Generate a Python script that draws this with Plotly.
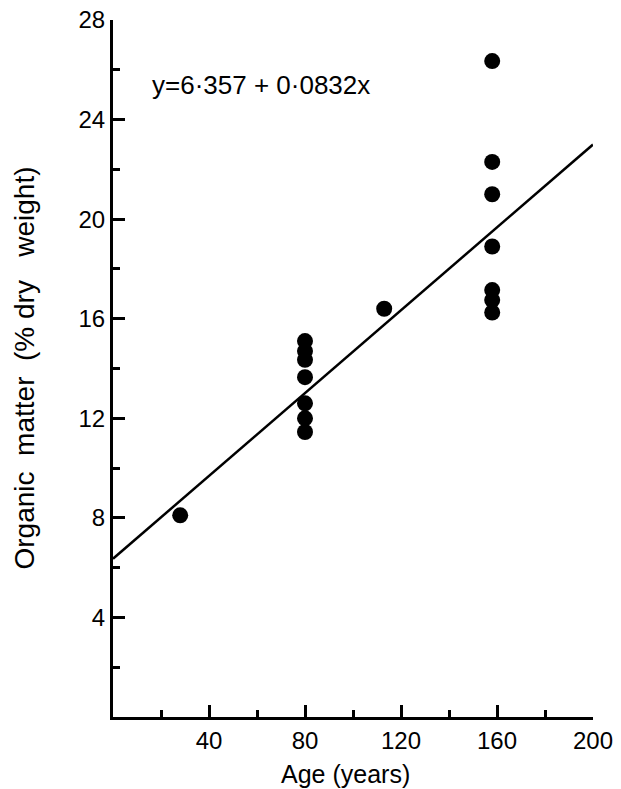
import plotly.graph_objects as go

# Data
age = [28, 80, 80, 80, 80, 80, 80, 80, 113, 158, 158, 158, 158, 158, 158, 158]
organic = [8.1, 15.1, 14.7, 14.35, 13.65, 12.6, 12.0, 11.45, 16.4,
           26.35, 22.3, 21.0, 18.9, 17.15, 16.75, 16.25]

intercept = 6.357
slope = 0.0832
fit_x = [0, 200]
fit_y = [intercept + slope * v for v in fit_x]

x_major = [40, 80, 120, 160, 200]
x_minor = [20, 60, 100, 140, 180]
y_major = [4, 8, 12, 16, 20, 24, 28]
y_minor = [2, 6, 10, 14, 18, 22, 26]

FONT = "Liberation Sans, Arial, sans-serif"

fig = go.Figure()
fig.add_trace(go.Scatter(x=fit_x, y=fit_y, mode="lines",
                         line=dict(color="black", width=2.5),
                         showlegend=False, hoverinfo="skip"))
fig.add_trace(go.Scatter(x=age, y=organic, mode="markers",
                         marker=dict(color="black", size=16),
                         showlegend=False))

fig.add_annotation(x=0, y=25.4, xref="x", yref="y",
                   text="y=6·357 + 0·0832x", showarrow=False,
                   xanchor="left", yanchor="middle", xshift=37,
                   font=dict(family=FONT, size=26, color="black"))

fig.add_annotation(x=0, y=0.5, xref="paper", yref="paper",
                   text="Organic  matter  (% dry   weight)", showarrow=False,
                   textangle=-90, xanchor="center", yanchor="middle",
                   xshift=-89,
                   font=dict(family=FONT, size=28, color="black"))

fig.add_annotation(x=0.5, y=0, xref="paper", yref="paper",
                   text="Age (years)", showarrow=False,
                   xanchor="center", yanchor="middle",
                   xshift=-8, yshift=-57,
                   font=dict(family=FONT, size=25, color="black"))

axis_common = dict(showgrid=False, zeroline=False, showline=True,
                   linecolor="black", linewidth=3, ticks="inside",
                   ticklen=12, tickwidth=3, tickcolor="black",
                   automargin=False, ticklabeloverflow="allow",
                   tickfont=dict(family=FONT, size=24, color="black"))

fig.update_xaxes(range=[0, 200], tickvals=x_major,
                 minor=dict(tickvals=x_minor, ticks="inside", ticklen=7,
                            tickwidth=3, tickcolor="black"),
                 **axis_common)
fig.update_yaxes(range=[0, 28], tickvals=y_major,
                 minor=dict(tickvals=y_minor, ticks="inside", ticklen=7,
                            tickwidth=3, tickcolor="black"),
                 **axis_common)

fig.update_layout(width=621, height=789,
                  margin=dict(l=113, r=28, t=20, b=72),
                  plot_bgcolor="white", paper_bgcolor="white",
                  font=dict(family=FONT, color="black"))

fig.write_html("out.html",
               config={"displayModeBar": False},
               post_script="document.body.style.margin='0';"
                           "document.body.style.overflow='hidden';")
